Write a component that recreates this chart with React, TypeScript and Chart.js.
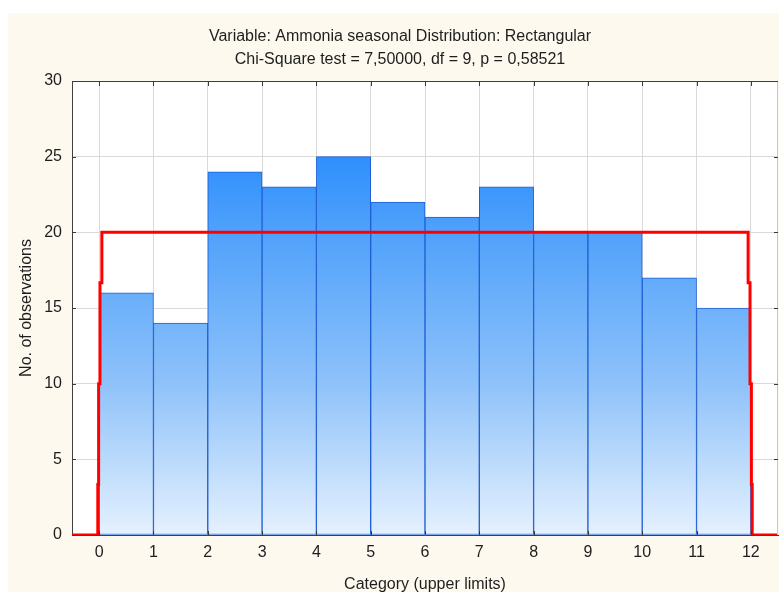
import React, { useEffect, useRef } from "react";
import { Chart, registerables } from "chart.js";

Chart.register(...registerables);

// ---- data ----
const titleLines = [
  "Variable: Ammonia seasonal Distribution: Rectangular",
  "Chi-Square test = 7,50000, df = 9, p = 0,58521",
];
const xAxisTitle = "Category (upper limits)";
const yAxisTitle = "No. of observations";
const upperLimits = [1, 2, 3, 4, 5, 6, 7, 8, 9, 10, 11, 12];
const observed = [16, 14, 24, 23, 25, 22, 21, 23, 20, 20, 17, 15];
const xTicks = [0, 1, 2, 3, 4, 5, 6, 7, 8, 9, 10, 11, 12];
const yTicks = [0, 5, 10, 15, 20, 25, 30];
// expected (rectangular) curve, stepped
const expectedX = [-0.5, -0.025, -0.01, 0.015, 0.05, 11.95, 11.985, 12.01, 12.025, 12.5];
const expectedY = [0, 3.33, 10, 16.67, 20, 16.67, 10, 3.33, 0, 0];

const FONT = "'Liberation Sans', Arial, sans-serif";
const TEXT = "#1e1e1e";

const backgroundPlugin = {
  id: "bgPlugin",
  beforeDraw(chart: any) {
    const { ctx, chartArea } = chart;
    ctx.save();
    ctx.fillStyle = "#ffffff";
    ctx.fillRect(0, 0, chart.width, chart.height);
    ctx.fillStyle = "#fdf9ee";
    ctx.fillRect(8, 13, chart.width - 8, chart.height - 13);
    ctx.fillStyle = "#ffffff";
    ctx.fillRect(chartArea.left, chartArea.top, chartArea.right - chartArea.left, chartArea.bottom - chartArea.top);
    ctx.restore();
  },
  afterDraw(chart: any) {
    const { ctx, chartArea, scales } = chart;
    const { left, right, top, bottom } = chartArea;
    ctx.save();
    ctx.lineWidth = 1;
    ctx.strokeStyle = "#c8c8c8";
    ctx.beginPath();
    ctx.moveTo(right - 0.5, top);
    ctx.lineTo(right - 0.5, bottom);
    ctx.stroke();
    ctx.strokeStyle = "#404040";
    ctx.beginPath();
    ctx.moveTo(left, top + 0.5);
    ctx.lineTo(right, top + 0.5);
    ctx.stroke();
    ctx.strokeStyle = "#3a3a3a";
    ctx.beginPath();
    for (const v of yTicks) {
      const y = Math.round(scales.y.getPixelForValue(v)) + 0.5;
      ctx.moveTo(left, y);
      ctx.lineTo(left + 4, y);
      ctx.moveTo(right - 4, y);
      ctx.lineTo(right, y);
    }
    for (const v of xTicks) {
      const x = Math.round(scales.x.getPixelForValue(v)) + 0.5;
      ctx.moveTo(x, top);
      ctx.lineTo(x, top + 5);
      ctx.moveTo(x, bottom);
      ctx.lineTo(x, bottom - 4);
    }
    ctx.stroke();
    ctx.restore();
  },
};

export default function App() {
  const ref = useRef<HTMLCanvasElement | null>(null);

  useEffect(() => {
    if (!ref.current) return;
    const barData = upperLimits.map((u, i) => ({ x: u - 0.5, y: observed[i] }));
    const lineData = expectedX.map((x, i) => ({ x, y: expectedY[i] }));

    const chart = new Chart(ref.current, {
      type: "bar",
      data: {
        datasets: [
          {
            type: "line",
            label: "Expected",
            data: lineData as any,
            borderColor: "#ff0000",
            borderWidth: 3,
            pointRadius: 0,
            stepped: "before",
            fill: false,
            order: 1,
          } as any,
          {
            type: "bar",
            label: "Observed",
            data: barData as any,
            backgroundColor: (ctx: any) => {
              const ca = ctx.chart.chartArea;
              if (!ca) return "#5aa6fb";
              const g = ctx.chart.ctx.createLinearGradient(0, ca.top, 0, ca.bottom);
              g.addColorStop(0, "#1f86ff");
              g.addColorStop(0.167, "#2f8ffd");
              g.addColorStop(0.33, "#4fa1fb");
              g.addColorStop(0.66, "#8dc1fa");
              g.addColorStop(1, "#e5f1fe");
              return g;
            },
            borderColor: "#1f5fd6",
            borderWidth: 1,
            borderSkipped: false,
            barPercentage: 1,
            categoryPercentage: 1,
            order: 2,
          } as any,
        ],
      },
      options: {
        responsive: false,
        animation: false,
        devicePixelRatio: 1,
        layout: { padding: { left: 22, top: 13, right: 1, bottom: 0 } },
        plugins: {
          legend: { display: false },
          tooltip: { enabled: false },
          title: {
            display: true,
            text: titleLines,
            color: TEXT,
            font: { family: FONT, size: 16, weight: "normal", lineHeight: 23 / 16 },
            padding: { top: 12, bottom: 10 },
          },
        },
        scales: {
          x: {
            type: "linear",
            offset: false,
            min: -0.5,
            max: 12.5,
            afterBuildTicks: (scale: any) => {
              scale.ticks = xTicks.map((v) => ({ value: v }));
            },
            afterFit: (scale: any) => {
              scale.height = 57;
            },
            ticks: {
              color: TEXT,
              font: { family: FONT, size: 16 },
              padding: 8,
              maxRotation: 0,
              autoSkip: false,
            },
            grid: { color: "#dadada", lineWidth: 1, drawTicks: false, offset: false },
            border: { display: true, color: "#404040", width: 1 },
            title: {
              display: true,
              text: xAxisTitle,
              color: TEXT,
              font: { family: FONT, size: 16 },
              padding: { top: 0, bottom: -2 },
            },
          },
          y: {
            type: "linear",
            min: 0,
            max: 30,
            afterBuildTicks: (scale: any) => {
              scale.ticks = yTicks.map((v) => ({ value: v }));
            },
            afterFit: (scale: any) => {
              scale.width = 50;
            },
            ticks: {
              color: TEXT,
              font: { family: FONT, size: 16 },
              padding: 10,
            },
            grid: { color: "#dadada", lineWidth: 1, drawTicks: false },
            border: { display: true, color: "#404040", width: 1 },
            title: {
              display: true,
              text: yAxisTitle,
              color: TEXT,
              font: { family: FONT, size: 16 },
              padding: { top: -4.6, bottom: 0 },
            },
          },
        },
      },
      plugins: [backgroundPlugin],
    } as any);
    return () => chart.destroy();
  }, []);

  return (
    <div style={{ position: "absolute", left: 0, top: 0, width: 779, height: 592 }}>
      <canvas ref={ref} width={779} height={592} style={{ display: "block", width: 779, height: 592 }} />
    </div>
  );
}
